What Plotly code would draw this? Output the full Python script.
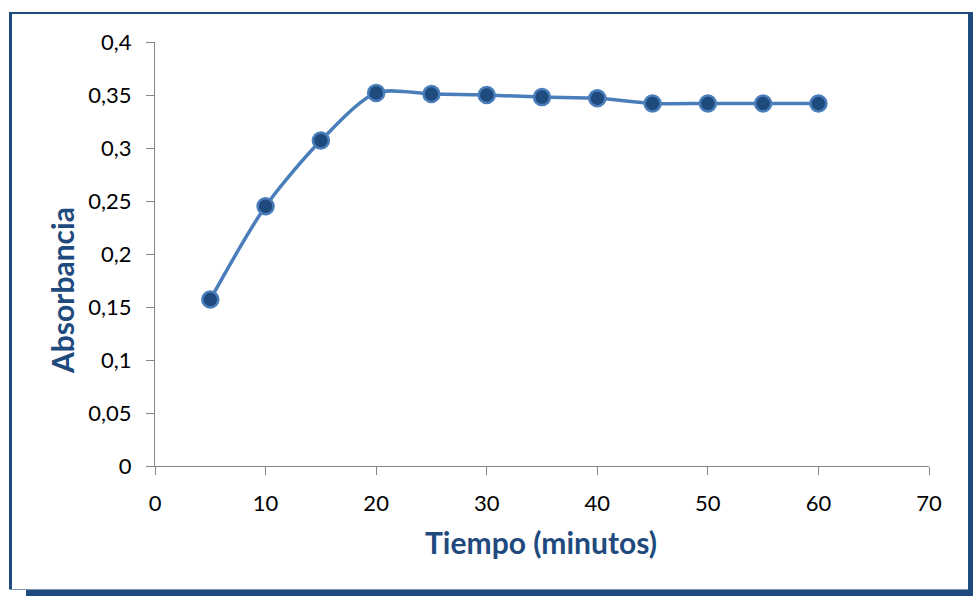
import plotly.graph_objects as go

# ---- data ----
tiempo = [5, 10, 15, 20, 25, 30, 35, 40, 45, 50, 55, 60]
absorbancia = [0.157, 0.245, 0.307, 0.352, 0.351, 0.350, 0.348, 0.347, 0.342, 0.342, 0.342, 0.342]
x_ticks = [0, 10, 20, 30, 40, 50, 60, 70]
y_ticks = [0, 0.05, 0.1, 0.15, 0.2, 0.25, 0.3, 0.35, 0.4]
y_tick_labels = ["0", "0,05", "0,1", "0,15", "0,2", "0,25", "0,3", "0,35", "0,4"]

W, H = 973, 596
ML, MR, MT, MB = 155, 44, 42, 130
PW, PH = W - ML - MR, H - MT - MB


def px(x):
    return (x - ML) / PW


def py(y):
    return (H - MB - y) / PH


FRAME = "#1F4A7E"
LINE = "#4A7EBB"
FONT = "Lato, Calibri, 'Open Sans', sans-serif"

fig = go.Figure()
fig.add_trace(go.Scatter(
    x=tiempo, y=absorbancia, mode="lines+markers",
    line=dict(color=LINE, width=3.5, shape="spline", smoothing=0.8),
    marker=dict(size=16, color=FRAME, line=dict(color=LINE, width=2.5)),
    showlegend=False, cliponaxis=False,
))

axis_common = dict(showgrid=False, zeroline=False, showline=True, linecolor="#868686",
                   linewidth=1, ticks="outside", ticklen=8, tickcolor="#868686",
                   tickfont=dict(family=FONT, size=22, color="#000000"))

fig.update_xaxes(range=[0, 70], tickvals=x_ticks, ticklabelstandoff=10, **axis_common)
fig.update_yaxes(range=[0, 0.4], tickvals=y_ticks, ticktext=y_tick_labels,
                 ticklabelstandoff=10, **axis_common)

annotations = [
    dict(text="<b>Tiempo (minutos)</b>", x=px(541), y=py(542), xref="paper", yref="paper",
         showarrow=False, font=dict(family=FONT, size=30, color=FRAME),
         xanchor="center", yanchor="middle"),
    dict(text="<b>Absorbancia</b>", x=px(62), y=py(291), xref="paper", yref="paper",
         showarrow=False, textangle=-90, font=dict(family=FONT, size=30, color=FRAME),
         xanchor="center", yanchor="middle"),
]

shapes = [
    # thin bottom edge of frame
    dict(type="rect", xref="paper", yref="paper", x0=px(9), x1=px(968), y0=py(590), y1=py(589),
         fillcolor="#7F96B2", line=dict(width=0), layer="below"),
    # left border
    dict(type="rect", xref="paper", yref="paper", x0=px(9), x1=px(12), y0=py(589), y1=py(12),
         fillcolor=FRAME, line=dict(width=0)),
    # top border
    dict(type="rect", xref="paper", yref="paper", x0=px(9), x1=px(969), y0=py(14), y1=py(12),
         fillcolor=FRAME, line=dict(width=0)),
    # right shadow band
    dict(type="rect", xref="paper", yref="paper", x0=px(968), x1=px(973), y0=py(596), y1=py(12),
         fillcolor=FRAME, line=dict(width=0)),
    # bottom shadow band
    dict(type="rect", xref="paper", yref="paper", x0=px(26), x1=px(973), y0=py(596), y1=py(590),
         fillcolor=FRAME, line=dict(width=0)),
]

fig.update_layout(
    width=W, height=H,
    margin=dict(l=ML, r=MR, t=MT, b=MB),
    paper_bgcolor="white", plot_bgcolor="white",
    annotations=annotations, shapes=shapes,
)

fig.write_html("out.html")
